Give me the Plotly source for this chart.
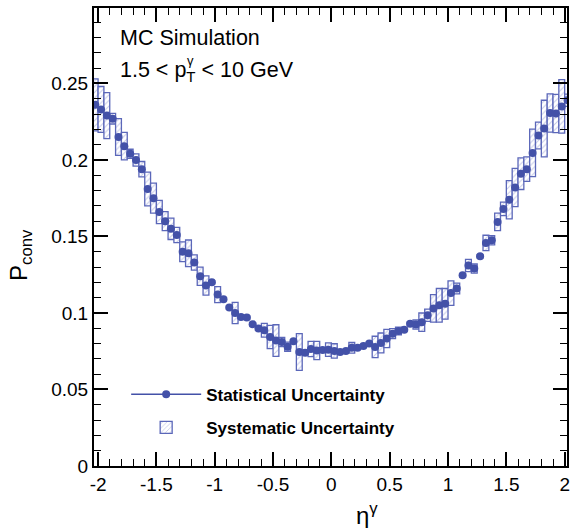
import plotly.graph_objects as go

# bin centres in eta
eta = [-2.025, -1.975, -1.925, -1.875, -1.825, -1.775, -1.725, -1.675, -1.625, -1.575,
       -1.525, -1.475, -1.425, -1.375, -1.325, -1.275, -1.225, -1.175, -1.125, -1.075,
       -1.025, -0.975, -0.925, -0.875, -0.825, -0.775, -0.725, -0.675, -0.625, -0.575,
       -0.525, -0.475, -0.425, -0.375, -0.325, -0.275, -0.225, -0.175, -0.125, -0.075,
       -0.025, 0.025, 0.075, 0.125, 0.175, 0.225, 0.275, 0.325, 0.375, 0.425,
       0.475, 0.525, 0.575, 0.625, 0.675, 0.725, 0.775, 0.825, 0.875, 0.925,
       0.975, 1.025, 1.075, 1.125, 1.175, 1.225, 1.275, 1.325, 1.375, 1.425,
       1.475, 1.525, 1.575, 1.625, 1.675, 1.725, 1.775, 1.825, 1.875, 1.925,
       1.975, 2.025]

# conversion probability
p_conv = [0.236, 0.233, 0.229, 0.227, 0.215, 0.209, 0.204, 0.200, 0.194, 0.181,
          0.175, 0.166, 0.160, 0.155, 0.151, 0.140, 0.139, 0.133, 0.124, 0.118,
          0.120, 0.112, 0.109, 0.1035, 0.100, 0.0974, 0.097, 0.0926, 0.0898, 0.0887,
          0.0843, 0.082, 0.081, 0.078, 0.0815, 0.0745, 0.074, 0.0765, 0.0755, 0.0758,
          0.0760, 0.0752, 0.0745, 0.0752, 0.0772, 0.0772, 0.0785, 0.0800, 0.0778, 0.0804,
          0.0833, 0.0865, 0.0882, 0.0891, 0.0930, 0.0924, 0.0940, 0.0985, 0.1030, 0.1050,
          0.1060, 0.1130, 0.1160, 0.1246, 0.1310, 0.1290, 0.1370, 0.1458, 0.1475, 0.1595,
          0.1680, 0.1740, 0.1820, 0.1910, 0.1940, 0.2046, 0.2160, 0.2205, 0.2307, 0.2303,
          0.2350, 0.2390]

# systematic half-widths
sys_err = [0.017, 0.015, 0.015, 0.0035, 0.012, 0.009, 0.003, 0.004, 0.005, 0.011,
           0.0098, 0.0076, 0.0062, 0.007, 0.005, 0.0065, 0.0087, 0.005, 0.006, 0.0063,
           0.001, 0.0052, 0.001, 0.001, 0.0069, 0.001, 0.001, 0.001, 0.001, 0.0045,
           0.0076, 0.0103, 0.003, 0.003, 0.001, 0.012, 0.001, 0.005, 0.006, 0.001,
           0.0044, 0.0047, 0.001, 0.001, 0.0035, 0.001, 0.001, 0.001, 0.007, 0.0065,
           0.006, 0.0033, 0.0025, 0.001, 0.001, 0.003, 0.006, 0.004, 0.009, 0.011,
           0.010, 0.008, 0.0035, 0.001, 0.004, 0.003, 0.001, 0.005, 0.003, 0.0057,
           0.0044, 0.0125, 0.0125, 0.0103, 0.008, 0.0155, 0.0087, 0.0185, 0.0125, 0.0125,
           0.0175, 0.004]

# statistical uncertainty
stat_err = [0.001] * len(eta)
bin_half = [0.025] * len(eta)

x_ticks = [-2, -1.5, -1, -0.5, 0, 0.5, 1, 1.5, 2]
x_ticktext = ["-2", "-1.5", "-1", "-0.5", "0", "0.5", "1", "1.5", "2"]
y_ticks = [0, 0.05, 0.1, 0.15, 0.2, 0.25]
y_ticktext = ["0", "0.05", "0.1", "0.15", "0.2", "0.25"]

MARK = "#4351a8"
BOX = "#5b67b9"
FONT = "Liberation Sans"

fig = go.Figure()

fig.add_trace(go.Bar(
    x=eta,
    y=[2 * s for s in sys_err],
    base=[v - s for v, s in zip(p_conv, sys_err)],
    width=0.05,
    marker=dict(color="white",
                line=dict(color=BOX, width=1.3),
                pattern=dict(shape="/", fgcolor="#8a93d0", bgcolor="white",
                             size=4, solidity=0.25)),
    name="<b>Systematic Uncertainty</b>",
    legendgroup="b", legendrank=2,
    showlegend=True,
))

fig.add_trace(go.Scatter(
    x=eta, y=p_conv, mode="markers",
    marker=dict(color=MARK, size=8),
    error_y=dict(type="data", array=stat_err, color=MARK, thickness=1.5, width=0),
    error_x=dict(type="data", array=bin_half, color=MARK, thickness=1.5, width=0),
    showlegend=False,
))

# legend-only entry for the statistical uncertainty
fig.add_trace(go.Scatter(
    x=[None], y=[None], mode="lines+markers",
    marker=dict(color=MARK, size=8),
    line=dict(color=MARK, width=1.5),
    name="<b>Statistical Uncertainty</b>",
    legendgroup="a", legendrank=1,
))

axis_common = dict(
    showline=True, linecolor="black", linewidth=2, mirror="allticks",
    ticks="inside", ticklen=14, tickwidth=1.5, tickcolor="black",
    showgrid=False, zeroline=False, automargin=False,
    tickfont=dict(family=FONT, size=19, color="black"),
)

fig.update_xaxes(
    range=[-2.035, 2.02], tickmode="array", tickvals=x_ticks, ticktext=x_ticktext,
    minor=dict(tickmode="linear", tick0=0, dtick=0.1, ticks="inside", ticklen=7,
               tickwidth=1.2, tickcolor="black"),
    **axis_common,
)
fig.update_yaxes(
    range=[0, 0.2993], tickmode="array", tickvals=y_ticks, ticktext=y_ticktext,
    minor=dict(tickmode="linear", tick0=0, dtick=0.01, ticks="inside", ticklen=7,
               tickwidth=1.2, tickcolor="black"),
    **axis_common,
)

fig.update_layout(
    width=570, height=528,
    margin=dict(l=94, r=3, t=8, b=62, autoexpand=False),
    paper_bgcolor="white", plot_bgcolor="white",
    barmode="overlay",
    font=dict(family=FONT, color="black"),
    legend=dict(x=0.068, y=0.195, xanchor="left", yanchor="top",
                bgcolor="rgba(0,0,0,0)", borderwidth=0, itemwidth=70,
                font=dict(family=FONT, size=17, color="black"),
                traceorder="grouped", tracegroupgap=8),
    annotations=[
        dict(text="MC Simulation", x=0.05, y=0.935, xref="paper", yref="paper",
             xanchor="left", yanchor="middle", showarrow=False,
             font=dict(family=FONT, size=21.5, color="black")),
        dict(text="1.5 < p<sub>T</sub> < 10 GeV", x=0.05, y=0.862,
             xref="paper", yref="paper", xanchor="left", yanchor="middle",
             showarrow=False, font=dict(family=FONT, size=21.5, color="black")),
        dict(text="γ", x=0.193, y=0.886, xref="paper", yref="paper",
             xanchor="left", yanchor="middle", showarrow=False,
             font=dict(family=FONT, size=13, color="black")),
        dict(text="P<sub>conv</sub>", x=-0.155, y=0.46, xref="paper", yref="paper",
             xanchor="center", yanchor="middle", textangle=-90, showarrow=False,
             font=dict(family=FONT, size=24, color="black")),
        dict(text="η<sup>γ</sup>", x=0.578, y=-0.105, xref="paper", yref="paper",
             xanchor="center", yanchor="middle", showarrow=False,
             font=dict(family=FONT, size=24, color="black")),
    ],
)

fig.write_html("out.html", config={"displayModeBar": False},
               post_script="document.body.style.margin='0';document.body.style.overflow='hidden';")
